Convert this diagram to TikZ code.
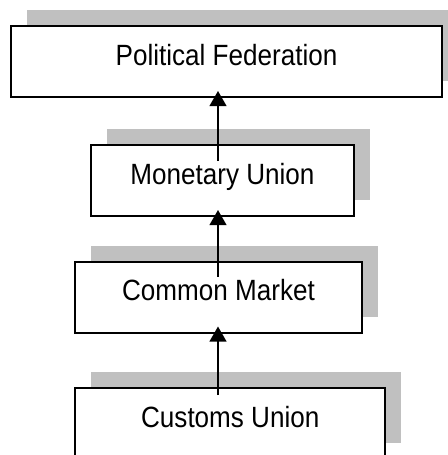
\documentclass[tikz,border=0pt]{standalone}
\usepackage{fontspec}
\setmainfont[FakeStretch=0.89]{Liberation Sans}
\usetikzlibrary{positioning,arrows.meta,shadows,calc}
\definecolor{shadowgray}{RGB}{192,192,192}

\begin{document}
\begin{tikzpicture}[
  x=0.3mm, y=-0.3mm,
  stage/.style={rectangle,draw=black,line width=1.7pt,fill=white,inner sep=0pt,
    minimum height=2.13cm,text height=1.17cm,text depth=0.96cm,
    font=\fontsize{25}{30}\selectfont,
    drop shadow={shadow xshift=0.48cm,shadow yshift=0.48cm,fill=shadowgray,opacity=1}},
  arrow/.style={-{Triangle[length=0.45cm,width=0.5cm]},black,line width=1.7pt}
]
\clip (0,0) rectangle (448,455);

\coordinate (spine) at (218,0);

\node[stage,minimum width=12.93cm] (PF) at (226.5,61.5) {Political Federation};
\node[stage,minimum width=7.89cm] (MU) at (222.5,180.5) {Monetary Union};
\node[stage,minimum width=8.61cm] (CM) at (218.5,297) {Common Market};
\node[stage,minimum width=9.3cm] (CU) at (230.25,423.5) {Customs Union};

\draw[arrow,shorten <=-0.51cm,shorten >=-0.21cm] (MU.north -| spine) -- (PF.south -| spine);
\draw[arrow,shorten <=-0.48cm,shorten >=-0.21cm] (CM.north -| spine) -- (MU.south -| spine);
\draw[arrow,shorten <=-0.24cm,shorten >=-0.21cm] (CU.north -| spine) -- (CM.south -| spine);

\end{tikzpicture}
\end{document}
